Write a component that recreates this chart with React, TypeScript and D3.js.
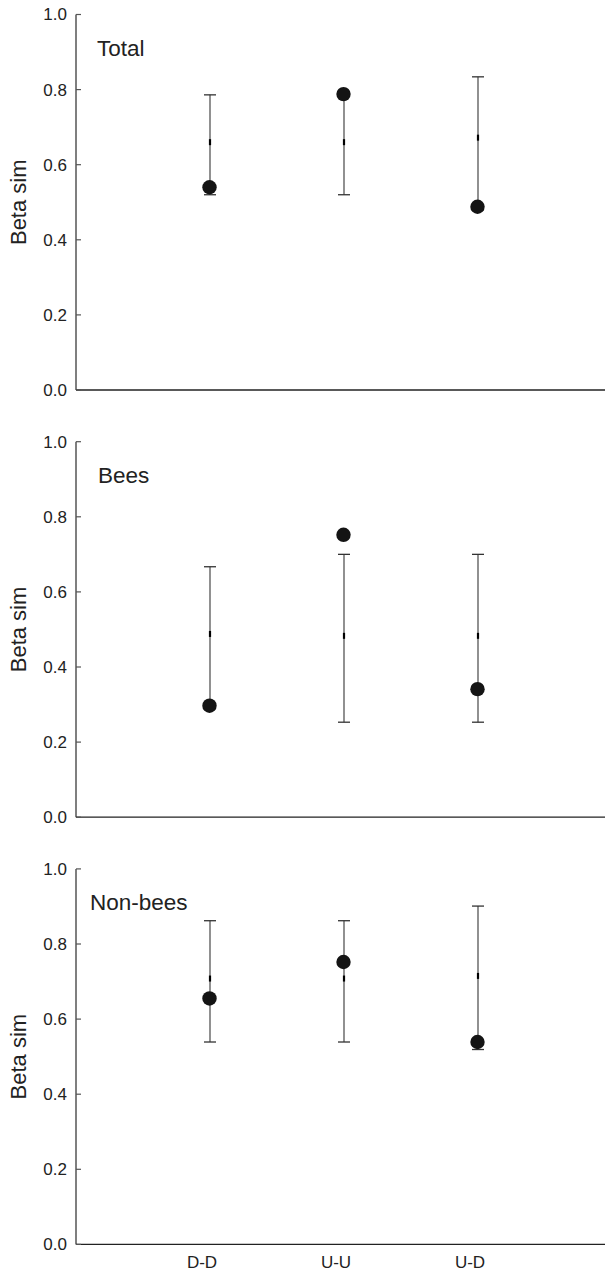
import React, { useEffect, useRef } from 'react';
import * as d3 from 'd3';

const categories = ['D-D', 'U-U', 'U-D'];
const panelTitles = ['Total', 'Bees', 'Non-bees'];
const yTicks = [0, 0.2, 0.4, 0.6, 0.8, 1.0];

// observed values (dots)
const observed = [
  [0.54, 0.788, 0.488],
  [0.297, 0.752, 0.341],
  [0.655, 0.752, 0.539],
];
// null model: lower, middle, upper
const nullLow = [
  [0.52, 0.52, 0.48],
  [0.30, 0.253, 0.253],
  [0.539, 0.539, 0.519],
];
const nullMid = [
  [0.66, 0.66, 0.672],
  [0.488, 0.483, 0.483],
  [0.708, 0.708, 0.715],
];
const nullHigh = [
  [0.786, 0.79, 0.834],
  [0.667, 0.70, 0.70],
  [0.862, 0.862, 0.901],
];

const W = 605, H = 1271;
const FONT = 'Liberation Sans, Arial, Helvetica, sans-serif';

const App = () => {
  const svgRef = useRef<SVGSVGElement>(null);

  useEffect(() => {
    document.body.style.margin = '0';
    const svg = d3.select(svgRef.current);
    svg.selectAll('*').remove();

    const axisX = 76;
    const x = d3.scalePoint<string>().domain(categories).range([axisX, 612]).padding(1);
    const titleX = [97, 98, 90];

    panelTitles.forEach((title, p) => {
      const top = 14.5 + p * 427.2;
      const bottom = top + 375.5;
      const y = d3.scaleLinear().domain([0, 1]).range([bottom, top]);
      const g = svg.append('g');

      // axes
      g.append('line')
        .attr('x1', axisX).attr('x2', axisX)
        .attr('y1', y(1)).attr('y2', y(0))
        .attr('stroke', '#555').attr('stroke-width', 1.5);
      g.append('line')
        .attr('x1', axisX).attr('x2', W)
        .attr('y1', y(0)).attr('y2', y(0))
        .attr('stroke', '#222').attr('stroke-width', 1.3);

      yTicks.forEach(t => {
        g.append('line')
          .attr('x1', axisX).attr('x2', axisX + 5)
          .attr('y1', y(t)).attr('y2', y(t))
          .attr('stroke', '#555').attr('stroke-width', 1.2);
        g.append('text')
          .attr('x', 67).attr('y', y(t))
          .attr('dy', '0.35em')
          .attr('text-anchor', 'end')
          .attr('font-family', FONT)
          .attr('font-size', 17)
          .attr('fill', '#222')
          .text(t.toFixed(1));
      });

      g.append('text')
        .attr('transform', `translate(26,${y(0.5)}) rotate(-90)`)
        .attr('text-anchor', 'middle')
        .attr('font-family', FONT)
        .attr('font-size', 22)
        .attr('fill', '#222')
        .text('Beta sim');

      g.append('text')
        .attr('x', titleX[p])
        .attr('y', y(0.89))
        .attr('font-family', FONT)
        .attr('font-size', 22.5)
        .attr('fill', '#222')
        .text(title);

      categories.forEach((c, i) => {
        const cx = x(c)!;
        g.append('line')
          .attr('x1', cx).attr('x2', cx)
          .attr('y1', y(nullLow[p][i])).attr('y2', y(nullHigh[p][i]))
          .attr('stroke', '#555').attr('stroke-width', 1.3);
        [nullLow[p][i], nullHigh[p][i]].forEach(v => {
          g.append('line')
            .attr('x1', cx - 6).attr('x2', cx + 6)
            .attr('y1', y(v)).attr('y2', y(v))
            .attr('stroke', '#333').attr('stroke-width', 1.3);
        });
        g.append('line')
          .attr('x1', cx).attr('x2', cx)
          .attr('y1', y(nullMid[p][i]) - 3).attr('y2', y(nullMid[p][i]) + 3)
          .attr('stroke', '#000').attr('stroke-width', 2.2);
        g.append('circle')
          .attr('cx', cx - 0.5).attr('cy', y(observed[p][i]))
          .attr('r', 7.2)
          .attr('fill', '#141414');
      });

      if (p === panelTitles.length - 1) {
        categories.forEach(c => {
          g.append('text')
            .attr('x', x(c)! - 8).attr('y', 1268)
            .attr('text-anchor', 'middle')
            .attr('font-family', FONT)
            .attr('font-size', 17)
            .attr('fill', '#222')
            .text(c);
        });
      }
    });
  }, []);

  return <svg ref={svgRef} width={W} height={H} style={{ display: 'block', background: '#fff' }} />;
};

export default App;
